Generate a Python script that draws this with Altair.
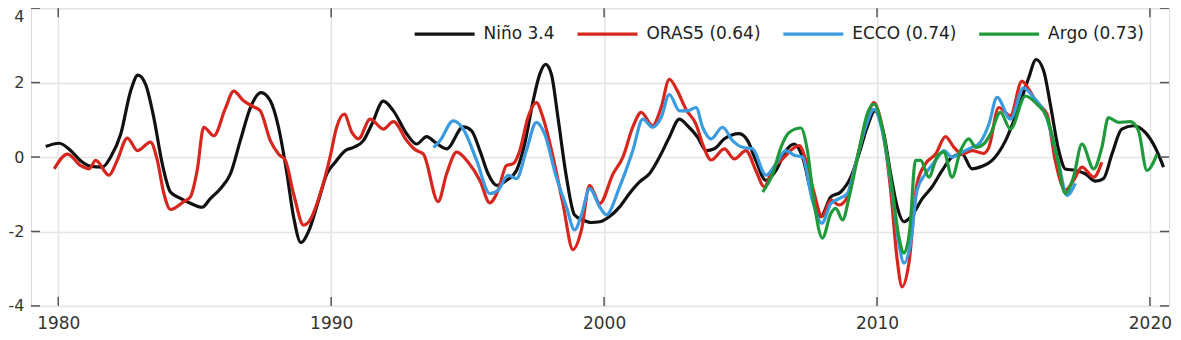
import altair as alt
import pandas as pd

# ---------------- data ----------------
series_names = ["Niño 3.4", "ORAS5 (0.64)", "ECCO (0.74)", "Argo (0.73)"]
series_colors = ["#111111", "#d7261e", "#3a9be0", "#1f9a3a"]

nino34 = [
    (1979.54, 0.28), (1980.03, 0.37), (1980.46, 0.17), (1980.82, -0.10), (1981.19, -0.25),
    (1981.62, -0.27), (1981.92, 0.00), (1982.29, 0.62), (1982.65, 1.77), (1982.92, 2.20),
    (1983.20, 1.95), (1983.50, 1.06), (1983.81, -0.18), (1984.11, -0.94), (1984.48, -1.11),
    (1984.84, -1.24), (1985.27, -1.35), (1985.58, -1.11), (1985.94, -0.85), (1986.31, -0.45),
    (1986.67, 0.44), (1987.04, 1.33), (1987.43, 1.73), (1987.77, 1.51), (1988.07, 0.80),
    (1988.38, -0.45), (1988.62, -1.60), (1988.89, -2.30), (1989.17, -2.00), (1989.54, -1.16),
    (1989.84, -0.45), (1990.15, -0.14), (1990.51, 0.17), (1990.82, 0.26), (1991.18, 0.44),
    (1991.49, 0.88), (1991.91, 1.50), (1992.28, 1.24), (1992.77, 0.62), (1993.13, 0.35),
    (1993.50, 0.55), (1993.80, 0.40), (1994.23, 0.22), (1994.84, 0.81), (1995.14, 0.71),
    (1995.45, 0.17), (1995.75, -0.45), (1996.06, -0.76), (1996.42, -0.63), (1996.79, -0.36),
    (1997.09, 0.35), (1997.40, 1.51), (1997.64, 2.22), (1997.86, 2.49), (1998.07, 2.22),
    (1998.31, 1.06), (1998.62, -0.54), (1998.92, -1.56), (1999.22, -1.69), (1999.53, -1.76),
    (1999.84, -1.74), (2000.20, -1.60), (2000.57, -1.34), (2000.93, -0.98), (2001.30, -0.67),
    (2001.66, -0.45), (2002.03, 0.00), (2002.39, 0.53), (2002.76, 1.02), (2003.06, 0.84),
    (2003.43, 0.53), (2003.74, 0.17), (2004.04, 0.22), (2004.41, 0.49), (2004.95, 0.63),
    (2005.26, 0.44), (2005.56, -0.09), (2005.93, -0.63), (2006.30, -0.36), (2006.66, 0.17),
    (2006.97, 0.35), (2007.27, 0.00), (2007.63, -1.07), (2007.94, -1.60), (2008.31, -1.07),
    (2008.67, -0.94), (2009.04, -0.54), (2009.34, 0.08), (2009.64, 0.80), (2009.92, 1.24),
    (2010.25, 0.62), (2010.50, -0.45), (2010.74, -1.34), (2010.99, -1.74), (2011.29, -1.56),
    (2011.66, -1.12), (2012.02, -0.80), (2012.39, -0.36), (2012.75, 0.00), (2013.12, 0.08),
    (2013.48, -0.32), (2013.85, -0.25), (2014.22, -0.09), (2014.71, 0.44), (2015.19, 1.33),
    (2015.56, 2.13), (2015.83, 2.62), (2016.11, 2.31), (2016.35, 1.42), (2016.66, 0.17),
    (2016.90, -0.32), (2017.27, -0.36), (2017.63, -0.45), (2018.00, -0.65), (2018.30, -0.58),
    (2018.61, 0.08), (2018.97, 0.75), (2019.40, 0.84), (2019.83, 0.66), (2020.19, 0.26),
    (2020.50, -0.27),
]

oras5 = [
    (1979.85, -0.32), (1980.34, 0.08), (1980.82, -0.23), (1981.13, -0.32), (1981.37, -0.09),
    (1981.86, -0.49), (1982.16, -0.09), (1982.53, 0.51), (1982.90, 0.17), (1983.38, 0.40),
    (1983.63, -0.09), (1983.87, -0.98), (1984.11, -1.41), (1984.60, -1.20), (1984.84, -1.07),
    (1985.09, -0.36), (1985.33, 0.80), (1985.70, 0.57), (1986.12, 1.30), (1986.43, 1.77),
    (1986.79, 1.51), (1987.16, 1.35), (1987.40, 1.24), (1987.77, 0.44), (1988.07, 0.08),
    (1988.32, -0.09), (1988.62, -0.98), (1988.99, -1.83), (1989.23, -1.69), (1989.60, -0.98),
    (1989.96, 0.00), (1990.20, 0.80), (1990.48, 1.15), (1990.76, 0.66), (1991.00, 0.49),
    (1991.43, 1.02), (1991.91, 0.75), (1992.28, 0.95), (1992.77, 0.44), (1993.07, 0.20),
    (1993.38, 0.08), (1993.92, -1.20), (1994.23, -0.45), (1994.60, 0.13), (1995.02, -0.14),
    (1995.45, -0.63), (1995.81, -1.23), (1996.12, -0.89), (1996.42, -0.23), (1996.67, -0.18),
    (1996.91, 0.17), (1997.21, 1.06), (1997.52, 1.46), (1997.76, 1.06), (1998.13, 0.00),
    (1998.49, -1.25), (1998.86, -2.49), (1999.17, -1.96), (1999.47, -0.76), (1999.84, -1.25),
    (2000.33, -0.45), (2000.69, 0.00), (2001.05, 0.80), (2001.36, 1.20), (2001.78, 0.84),
    (2002.09, 1.33), (2002.39, 2.09), (2002.69, 1.77), (2003.00, 1.28), (2003.37, 0.88),
    (2003.61, 0.35), (2003.92, -0.08), (2004.41, 0.22), (2004.77, -0.05), (2005.20, 0.17),
    (2005.56, -0.36), (2005.87, -0.80), (2006.18, -0.32), (2006.54, -0.05), (2006.97, 0.25),
    (2007.15, 0.31), (2007.39, -0.09), (2007.70, -0.98), (2007.98, -1.60), (2008.31, -1.16),
    (2008.61, -1.29), (2008.85, -1.16), (2009.22, -0.18), (2009.58, 0.88), (2009.89, 1.46),
    (2010.19, 0.80), (2010.50, -0.89), (2010.74, -2.76), (2010.92, -3.49), (2011.17, -2.85),
    (2011.47, -0.71), (2011.78, -0.18), (2012.15, 0.08), (2012.51, 0.55), (2012.82, 0.26),
    (2013.12, 0.08), (2013.48, 0.17), (2013.91, 0.10), (2014.10, 0.26), (2014.46, 1.33),
    (2014.89, 1.11), (2015.31, 2.04), (2015.56, 1.82), (2015.86, 1.46), (2016.23, 1.15),
    (2016.53, -0.09), (2016.90, -0.89), (2017.20, -0.63), (2017.51, -0.27), (2017.94, -0.54),
    (2018.24, -0.14),
]

ecco = [
    (1993.75, 0.25), (1994.00, 0.45), (1994.47, 0.97), (1994.84, 0.75), (1995.33, -0.09),
    (1995.81, -0.98), (1996.12, -0.89), (1996.48, -0.49), (1996.79, -0.58), (1997.15, 0.17),
    (1997.52, 0.93), (1997.82, 0.62), (1998.25, -0.54), (1998.62, -1.34), (1998.92, -1.96),
    (1999.17, -1.56), (1999.47, -0.85), (1999.84, -1.34), (2000.08, -1.55), (2000.57, -0.80),
    (2001.05, 0.17), (2001.42, 1.02), (2001.78, 0.80), (2002.09, 1.06), (2002.39, 1.68),
    (2002.76, 1.24), (2003.06, 1.24), (2003.37, 1.33), (2003.61, 0.80), (2003.92, 0.49),
    (2004.34, 0.80), (2004.71, 0.44), (2005.07, 0.26), (2005.44, 0.22), (2005.93, -0.49),
    (2006.30, -0.18), (2006.66, 0.17), (2006.97, 0.05), (2007.27, 0.00), (2007.63, -1.16),
    (2007.98, -1.78), (2008.31, -1.25), (2008.61, -1.12), (2008.92, -0.98), (2009.22, -0.18),
    (2009.58, 0.80), (2009.89, 1.28), (2010.19, 0.71), (2010.56, -0.98), (2010.80, -2.31),
    (2010.99, -2.85), (2011.23, -2.31), (2011.47, -0.89), (2011.78, -0.45), (2012.15, -0.09),
    (2012.45, 0.17), (2012.75, 0.00), (2013.12, 0.13), (2013.48, 0.26), (2013.73, 0.35),
    (2014.10, 0.88), (2014.40, 1.60), (2014.89, 1.02), (2015.37, 1.86), (2015.74, 1.60),
    (2016.17, 1.15), (2016.66, -0.18), (2016.96, -1.03), (2017.27, -0.71),
]

argo = [
    (2005.81, -0.94), (2006.18, -0.45), (2006.48, 0.26), (2006.78, 0.66), (2007.21, 0.78),
    (2007.45, 0.17), (2007.70, -1.25), (2008.00, -2.18), (2008.31, -1.51), (2008.49, -1.38),
    (2008.74, -1.69), (2008.98, -1.07), (2009.34, 0.17), (2009.64, 1.15), (2009.89, 1.42),
    (2010.19, 0.80), (2010.56, -0.89), (2010.80, -2.14), (2010.99, -2.58), (2011.20, -1.96),
    (2011.41, -0.09), (2011.60, -0.09), (2011.90, -0.54), (2012.20, 0.00), (2012.45, 0.13),
    (2012.75, -0.54), (2013.06, 0.17), (2013.36, 0.49), (2013.62, 0.26), (2013.91, 0.35),
    (2014.16, 0.62), (2014.52, 1.20), (2014.89, 0.75), (2015.44, 1.64), (2015.86, 1.42),
    (2016.23, 1.06), (2016.60, 0.00), (2016.90, -0.98), (2017.20, -0.54), (2017.51, 0.35),
    (2017.94, -0.32), (2018.24, 0.26), (2018.48, 1.06), (2018.85, 0.93), (2019.28, 0.95),
    (2019.58, 0.71), (2019.89, -0.36), (2020.26, 0.08),
]

x_ticks = [1980, 1990, 2000, 2010, 2020]
y_ticks = [-4, -2, 0, 2, 4]
x_domain = [1979.0, 2020.7]
y_domain = [-4, 4]

# ---------------- build table ----------------
rows = []
for i, (name, pts) in enumerate(zip(series_names, [nino34, oras5, ecco, argo])):
    for yr, v in pts:
        rows.append({"year": yr, "value": v, "series": name, "order": i})
df = pd.DataFrame(rows)

W, H = 1139, 298
FONT = "DejaVu Sans"

xs = alt.Scale(domain=x_domain, nice=False, zero=False)
ys = alt.Scale(domain=y_domain, nice=False, zero=False)

x_axis = alt.Axis(
    values=x_ticks, format="d", title=None, grid=True, ticks=False, domain=False,
    labelFontSize=17, labelColor="#333", labelFont=FONT, labelPadding=10,
    gridColor="#e4e4e4", gridWidth=1.5)
y_axis = alt.Axis(
    values=y_ticks, title=None, grid=True, ticks=False, domain=False,
    labelExpr="'' + datum.value",
    labelOffset={"condition": {"test": "datum.value == 4", "value": 8}, "value": 0},
    labelFontSize=16, labelColor="#333", labelFont=FONT, labelPadding=7,
    gridColor="#e4e4e4", gridWidth=1.5)

lines = alt.Chart(df).mark_line(strokeWidth=3.2, interpolate="monotone").encode(
    x=alt.X("year:Q", scale=xs, axis=x_axis),
    y=alt.Y("value:Q", scale=ys, axis=y_axis),
    color=alt.Color("series:N", scale=alt.Scale(domain=series_names, range=series_colors),
                    sort=series_names,
                    legend=alt.Legend(
                        title=None, orient="none", direction="horizontal",
                        legendX=382, legendY=-6, padding=0,
                        symbolType="stroke", symbolSize=3600, symbolStrokeWidth=3.2,
                        labelFontSize=17, labelFont=FONT, labelColor="#222",
                        labelOffset=7, columnPadding=15)),
    detail="series:N",
    order=alt.Order("order:Q"),
)

xt = pd.DataFrame({"year": x_ticks})
yt = pd.DataFrame({"value": y_ticks})
TK = 9
tick_style = dict(color="#555", strokeWidth=1.5)

bottom_ticks = alt.Chart(xt).mark_rule(**tick_style).encode(
    x=alt.X("year:Q", scale=xs, axis=x_axis), y=alt.value(H), y2=alt.value(H - TK))
top_ticks = alt.Chart(xt).mark_rule(**tick_style).encode(
    x=alt.X("year:Q", scale=xs, axis=x_axis), y=alt.value(0), y2=alt.value(TK))
left_ticks = alt.Chart(yt).mark_rule(**tick_style).encode(
    y=alt.Y("value:Q", scale=ys, axis=y_axis), x=alt.value(0), x2=alt.value(TK))
right_ticks = alt.Chart(yt).mark_rule(**tick_style).encode(
    y=alt.Y("value:Q", scale=ys, axis=y_axis), x=alt.value(W), x2=alt.value(W - TK))

chart = alt.layer(lines, bottom_ticks, top_ticks, left_ticks, right_ticks).properties(
    width=W, height=H,
    autosize=alt.AutoSizeParams(type="none"),
    padding={"left": 23, "top": 0, "right": 4, "bottom": 32},
).configure_view(stroke="#6a6a6a", strokeWidth=1.8).configure(background="white")

chart.save("out.html", embed_options={"renderer": "svg", "actions": False})
